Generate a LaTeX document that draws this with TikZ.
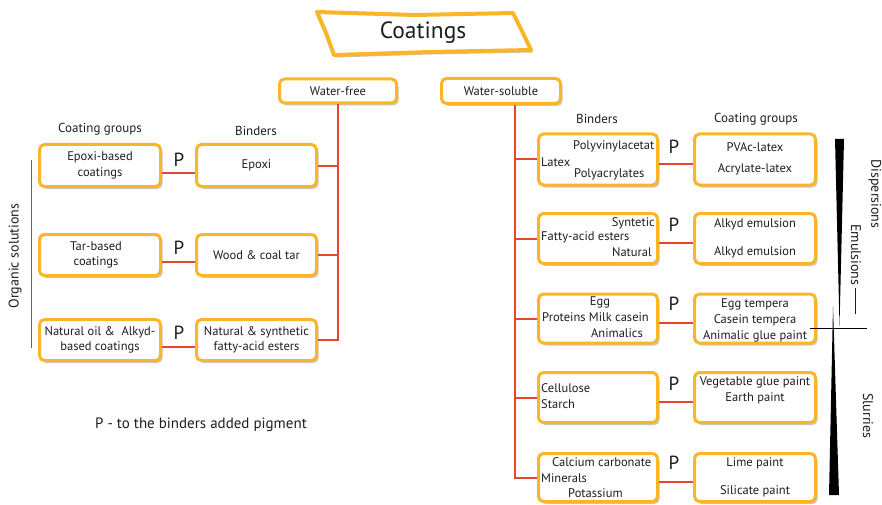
\documentclass[tikz,border=0pt]{standalone}
\usepackage{fontspec}
\setmainfont{PT Sans}
\usetikzlibrary{shadows,calc}
\definecolor{boxorange}{RGB}{250,182,40}
\definecolor{linered}{RGB}{229,70,44}
\definecolor{txt}{RGB}{30,30,30}
\tikzset{
  box/.style={draw=boxorange, line width=3pt, rounded corners=5pt, fill=white,
    drop shadow={shadow xshift=2pt, shadow yshift=-2.5pt, opacity=0.22, fill=black},
    inner sep=0pt, text=txt, align=center, font=\fontsize{12.5}{15.5}\selectfont},
  conn/.style={draw=linered, line width=2pt},
  lbl/.style={text=txt, font=\fontsize{12.5}{14}\selectfont, inner sep=0pt},
  hdr/.style={text=txt, font=\fontsize{13}{14}\selectfont, inner sep=0pt},
  plbl/.style={text=txt, font=\fontsize{19}{20}\selectfont, inner sep=0pt},
  side/.style={text=txt, font=\fontsize{14}{15}\selectfont, inner sep=0pt},
}
\begin{document}
\begin{tikzpicture}[x=1pt,y=-1pt]
\useasboundingbox[fill=white] (0,0) rectangle (882,505);

% title
\filldraw[draw=boxorange, fill=white, line width=4pt, line join=round,
  drop shadow={shadow xshift=2pt, shadow yshift=-2.5pt, opacity=0.22, fill=black}]
  (317,12) -- (415,15) -- (513,13) -- (522,31) -- (531,50) -- (430,52) -- (334,55) -- (326,33) -- cycle;
\node[text=txt, font=\fontsize{23.5}{24}\selectfont, inner sep=0pt] (title) at (423,33) {Coatings};

% top boxes
\node[box, minimum width=117pt, minimum height=24pt] (wf) at (338,91) {Water-free};
\node[box, minimum width=119pt, minimum height=25pt] (ws) at (501,91) {Water-soluble};

% left headers
\node[hdr] (hcg1) at (100,129) {Coating groups};
\node[hdr] (hb1) at (256,131) {Binders};

% left boxes
\node[box, minimum width=121pt, minimum height=42pt] (eb) at (100,165.5) {Epoxi-based\\coatings};
\node[box, minimum width=120pt, minimum height=42pt] (ep) at (256.5,165.5) {Epoxi};
\node[box, minimum width=121pt, minimum height=41pt, text width=110pt] (tb) at (100,255) {\hspace*{-8pt}Tar-based\\\hspace*{-8pt}coatings};
\node[box, minimum width=120pt, minimum height=41pt] (wc) at (256.5,255) {Wood \& coal tar};
\node[box, minimum width=121pt, minimum height=41pt] (no) at (100,340) {Natural oil \&\ \ Alkyd-\\based coatings};
\node[box, minimum width=120pt, minimum height=41pt] (nf) at (256.5,340) {Natural \& synthetic\\fatty-acid esters};

\node[plbl] (p1) at (179,160) {P};
\node[plbl] (p2) at (179,248) {P};
\node[plbl] (p3) at (179,333) {P};

\draw[conn] ([yshift=-7pt]eb.east) -- ([yshift=-7pt]ep.west);
\draw[conn] ([yshift=-7pt]tb.east) -- ([yshift=-7pt]wc.west);
\draw[conn] ([yshift=-7pt]no.east) -- ([yshift=-7pt]nf.west);
\draw[conn] (wf.south) |- (nf.east);
\draw[conn] (ep.east) -- (ep.east -| wf.south);
\draw[conn] (wc.east) -- (wc.east -| wf.south);

% organic solutions
\node[side, rotate=90] (org) at (15,256) {Organic solutions};
\draw[gray!80!black, line width=1pt] (31,160) -- (31,348);

% legend
\node[text=txt, font=\fontsize{15}{16}\selectfont, inner sep=0pt] (leg) at (201,425) {P - to the binders added pigment};

% right headers
\node[hdr] (hb2) at (597,119) {Binders};
\node[hdr] (hcg2) at (756,119) {Coating groups};

% right boxes
\node[box, minimum width=119pt, minimum height=51pt] (b1) at (598,159.5) {};
\node[box, minimum width=121pt, minimum height=51pt] (c1) at (755,159.5) {};
\node[box, minimum width=119pt, minimum height=50pt] (b2) at (598,238.5) {};
\node[box, minimum width=121pt, minimum height=50pt] (c2) at (755,238.5) {};
\node[box, minimum width=119pt, minimum height=49pt] (b3) at (598,318.5) {};
\node[box, minimum width=121pt, minimum height=49pt] (c3) at (755,318.5) {};
\node[box, minimum width=119pt, minimum height=50pt] (b4) at (598,397.5) {};
\node[box, minimum width=121pt, minimum height=50pt] (c4) at (755,397.5) {};
\node[box, minimum width=119pt, minimum height=48pt] (b5) at (598,477.5) {};
\node[box, minimum width=121pt, minimum height=48pt] (c5) at (755,477.5) {};

% right connectors
\coordinate (wsd) at ([xshift=14pt]ws.south);
\draw[conn] (wsd) |- (b5.west);
\foreach \b in {b1,b2,b3,b4}{\draw[conn] (\b.west -| wsd) -- (\b.west);}
\foreach \i in {1,...,5}{\draw[conn] ([yshift=-4.5pt]b\i.east) -- ([yshift=-4.5pt]c\i.west);}

\node[plbl] (q1) at (674,147) {P};
\node[plbl] (q2) at (674,225) {P};
\node[plbl] (q3) at (674,304) {P};
\node[plbl] (q4) at (674,384) {P};
\node[plbl] (q5) at (674,463) {P};

% binder texts
\node[lbl, anchor=west] (t11) at (573,146) {Polyvinylacetat};
\node[lbl, anchor=west] (t12) at (541,162) {Latex};
\node[lbl, anchor=west] (t13) at (574,174) {Polyacrylates};
\node[lbl, anchor=east] (t21) at (655,223) {Syntetic};
\node[lbl, anchor=west] (t22) at (541,237) {Fatty-acid esters};
\node[lbl, anchor=east] (t23) at (652,252) {Natural};
\node[lbl] (t31) at (600,302) {Egg};
\node[lbl, anchor=west] (t32) at (542,317) {Proteins Milk casein};
\node[lbl] (t33) at (617,333) {Animalics};
\node[lbl, anchor=west] (t41) at (541,388) {Cellulose};
\node[lbl, anchor=west] (t42) at (541,404) {Starch};
\node[lbl, anchor=west] (t51) at (552,462) {Calcium carbonate};
\node[lbl, anchor=west] (t52) at (541,478) {Minerals};
\node[lbl, anchor=west] (t53) at (568,493) {Potassium};

% coating texts
\node[lbl] (u11) at (755,147) {PVAc-latex};
\node[lbl] (u12) at (755,169) {Acrylate-latex};
\node[lbl] (u21) at (755,224) {Alkyd emulsion};
\node[lbl] (u22) at (755,252) {Alkyd emulsion};
\node[lbl] (u31) at (755,304) {Egg tempera};
\node[lbl] (u32) at (755,320) {Casein tempera};
\node[lbl] (u33) at (755,336) {Animalic glue paint};
\node[lbl] (u41) at (755,382) {Vegetable glue paint};
\node[lbl] (u42) at (755,398) {Earth paint};
\node[lbl] (u51) at (755,463) {Lime paint};
\node[lbl] (u52) at (755,491) {Silicate paint};

% wedges and side labels
\fill[black] (835,139) -- (844,139) -- (839.5,326) -- cycle;
\fill[black] (833,306) -- (839,495) -- (829,495) -- cycle;
\draw[black, line width=0.7pt] (810,328) -- (867,328);
\node[side, rotate=-90] (disp) at (875,194) {Dispersions};
\node[side, rotate=-90] (emul) at (856,269) {Emulsions\,\rule[0.28em]{26pt}{0.8pt}};
\node[side, rotate=-90] (slur) at (868,416) {Slurries};
\end{tikzpicture}
\end{document}
